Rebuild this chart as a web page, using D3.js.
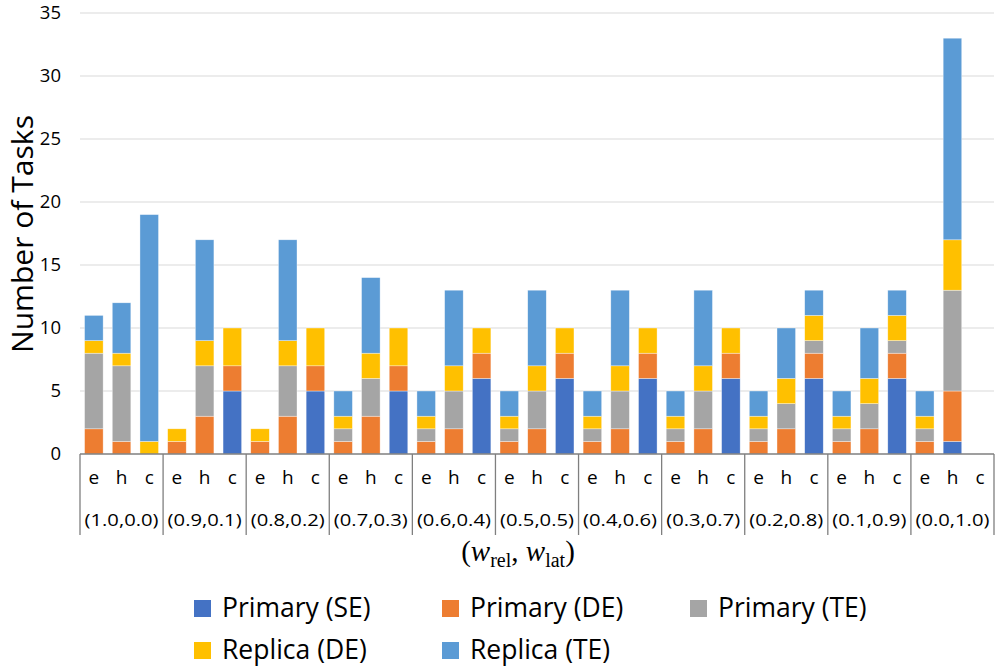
<!DOCTYPE html>
<html>
<head>
<meta charset="utf-8">
<script src="https://cdn.jsdelivr.net/npm/d3@7"></script>
<style>
  body { margin: 0; background: #fff; }
  text { font-family: "Open Sans", "Noto Sans", sans-serif; fill: #000; }
</style>
</head>
<body>
<svg id="chart" width="997" height="666"></svg>
<script>
const groups = ["(1.0,0.0)", "(0.9,0.1)", "(0.8,0.2)", "(0.7,0.3)", "(0.6,0.4)", "(0.5,0.5)",
                "(0.4,0.6)", "(0.3,0.7)", "(0.2,0.8)", "(0.1,0.9)", "(0.0,1.0)"];
const subcats = ["e", "h", "c"];
const seriesNames = ["Primary (SE)", "Primary (DE)", "Primary (TE)", "Replica (DE)", "Replica (TE)"];
const colors = ["#4472C4", "#ED7D31", "#A5A5A5", "#FFC000", "#5B9BD5"];

// values per bar, groups x (e,h,c)
const primarySE = [0,0,0, 0,0,5, 0,0,5, 0,0,5, 0,0,6, 0,0,6, 0,0,6, 0,0,6, 0,0,6, 0,0,6, 0,1,0];
const primaryDE = [2,1,0, 1,3,2, 1,3,2, 1,3,2, 1,2,2, 1,2,2, 1,2,2, 1,2,2, 1,2,2, 1,2,2, 1,4,0];
const primaryTE = [6,6,0, 0,4,0, 0,4,0, 1,3,0, 1,3,0, 1,3,0, 1,3,0, 1,3,0, 1,2,1, 1,2,1, 1,8,0];
const replicaDE = [1,1,1, 1,2,3, 1,2,3, 1,2,3, 1,2,2, 1,2,2, 1,2,2, 1,2,2, 1,2,2, 1,2,2, 1,4,0];
const replicaTE = [2,4,18, 0,8,0, 0,8,0, 2,6,0, 2,6,0, 2,6,0, 2,6,0, 2,6,0, 2,4,2, 2,4,2, 2,16,0];
const yTicks = [0, 5, 10, 15, 20, 25, 30, 35];

const seriesVals = [primarySE, primaryDE, primaryTE, replicaDE, replicaTE];

var rows = [];
groups.forEach(function(g, gi){
  subcats.forEach(function(s, si){
    var i = gi * 3 + si;
    var r = {key: g + "|" + s, group: g, sub: s};
    seriesNames.forEach(function(n, k){ r[n] = seriesVals[k][i]; });
    rows.push(r);
  });
});

const svg = d3.select("#chart");
const plotL = 80, plotR = 994, plotT = 13, plotB = 454;

var x = d3.scaleBand().domain(rows.map(d => d.key)).range([plotL, plotR]).paddingInner(0.33).paddingOuter(0.165);
var y = d3.scaleLinear().domain([0, 35]).range([plotB, plotT]);

// gridlines
svg.append("g").selectAll("line")
  .data(yTicks.filter(t => t > 0))
  .enter().append("line")
  .attr("x1", plotL).attr("x2", plotR)
  .attr("y1", d => y(d)).attr("y2", d => y(d))
  .attr("stroke", "#d9d9d9").attr("stroke-width", 1);

// y axis labels
var yAxis = d3.axisLeft(y).tickValues(yTicks).tickSize(0).tickPadding(19);
svg.append("g").attr("transform", "translate(" + plotL + ",0)").call(yAxis)
  .call(g => g.select(".domain").remove())
  .selectAll("text").style("font-size", "18.5px").attr("fill", "#000")
  .style("font-family", "'Open Sans', sans-serif");

// stacked bars
var stack = d3.stack().keys(seriesNames);
var layers = stack(rows);
svg.append("g").selectAll("g")
  .data(layers)
  .enter().append("g")
  .attr("fill", (d, i) => colors[i])
  .selectAll("rect")
  .data(d => d.filter(p => p[1] > p[0]))
  .enter().append("rect")
  .attr("x", d => x(d.data.key))
  .attr("width", x.bandwidth())
  .attr("y", d => y(d[1]))
  .attr("height", d => y(d[0]) - y(d[1]))
  .attr("stroke", "#fff").attr("stroke-width", 0.6).attr("stroke-opacity", 0.6);

// x axis line
svg.append("line").attr("x1", plotL).attr("x2", plotR).attr("y1", plotB).attr("y2", plotB)
  .attr("stroke", "#7f7f7f").attr("stroke-width", 1.3);

// group separators
var gw = (plotR - plotL) / groups.length;
svg.append("g").selectAll("line")
  .data(d3.range(groups.length + 1))
  .enter().append("line")
  .attr("x1", i => plotL + i * gw).attr("x2", i => plotL + i * gw)
  .attr("y1", plotB).attr("y2", 535)
  .attr("stroke", "#7f7f7f").attr("stroke-width", 1.3);

// sub labels
svg.append("g").selectAll("text")
  .data(rows)
  .enter().append("text")
  .attr("x", d => x(d.key) + x.bandwidth() / 2)
  .attr("y", 484)
  .attr("text-anchor", "middle")
  .style("font-size", "19px")
  .text(d => d.sub);

// group labels
svg.append("g").selectAll("text")
  .data(groups)
  .enter().append("text")
  .attr("x", (d, i) => plotL + (i + 0.5) * gw)
  .attr("y", 526)
  .attr("text-anchor", "middle")
  .style("font-size", "17px")
  .attr("textLength", 74).attr("lengthAdjust", "spacingAndGlyphs")
  .text(d => d);

// y title
svg.append("text")
  .attr("transform", "translate(33,234) rotate(-90)")
  .attr("text-anchor", "middle")
  .style("font-size", "30px")
  .attr("textLength", 238).attr("lengthAdjust", "spacingAndGlyphs")
  .text("Number of Tasks");

// x title
var xt = svg.append("text")
  .attr("x", 518).attr("y", 561)
  .attr("text-anchor", "middle")
  .style("font-family", "'Liberation Serif', serif")
  .style("font-size", "29px");
xt.append("tspan").text("(");
xt.append("tspan").style("font-style", "italic").text("w");
xt.append("tspan").attr("dy", 6).style("font-size", "20px").text("rel");
xt.append("tspan").attr("dy", -6).text(", ");
xt.append("tspan").style("font-style", "italic").text("w");
xt.append("tspan").attr("dy", 6).style("font-size", "20px").text("lat");
xt.append("tspan").attr("dy", -6).text(")");

// legend
var legendPos = [[194, 617], [442, 617], [690, 617], [194, 659], [442, 659]];
var lg = svg.append("g").selectAll("g")
  .data(seriesNames)
  .enter().append("g")
  .attr("transform", (d, i) => "translate(" + legendPos[i][0] + "," + legendPos[i][1] + ")");
lg.append("rect").attr("x", 0).attr("y", -17).attr("width", 17).attr("height", 17)
  .attr("fill", (d, i) => colors[i]);
lg.append("text").attr("x", 28).attr("y", 0)
  .style("font-size", "26.5px")
  .text(d => d);
</script>
</body>
</html>
